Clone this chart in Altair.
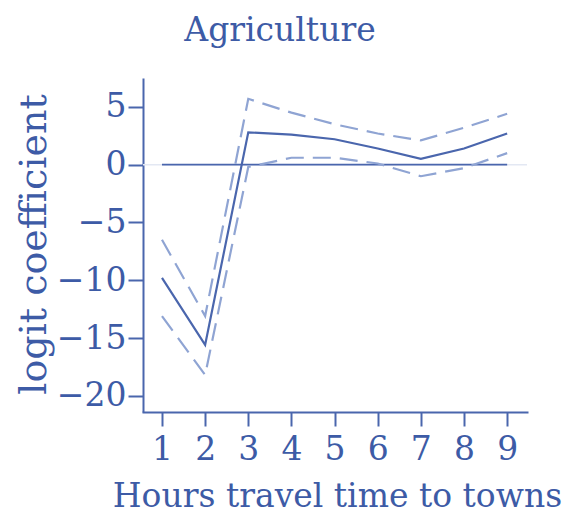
import altair as alt
import pandas as pd

hours = [1, 2, 3, 4, 5, 6, 7, 8, 9]
estimate = [-9.8, -15.6, 2.8, 2.6, 2.2, 1.4, 0.5, 1.4, 2.7]
upper = [-6.5, -13.1, 5.7, 4.5, 3.5, 2.7, 2.1, 3.2, 4.4]
lower = [-13.1, -18.2, -0.2, 0.6, 0.6, 0.1, -1.0, -0.3, 1.0]

df = pd.DataFrame({"hours": hours, "estimate": estimate, "upper": upper, "lower": lower})
zero = pd.DataFrame({"x1": [1], "x2": [9], "y": [0]})

TXT = "#3d5ba6"
LINE = "#4a66ad"
FONT = "DejaVu Serif"

xs = alt.Scale(domain=[0.56, 9.46], nice=False, zero=False)
ys = alt.Scale(domain=[-21.4, 7.5], nice=False, zero=False)

xaxis = alt.Axis(values=hours, format="d", title="Hours travel time to towns",
                 titleX=194, titleY=94, titleBaseline="alphabetic",
                 labelPadding=7, tickSize=14)
yaxis = alt.Axis(values=[-20, -15, -10, -5, 0, 5], format="d", title="logit coefficient",
                 titleX=-98, titleY=166, titleBaseline="alphabetic", titleFontSize=38,
                 labelPadding=2, tickSize=15)

base = alt.Chart(df)

faint = alt.Chart(zero).mark_rule(color="#e3e8f3", strokeWidth=1.5).encode(
    y=alt.Y("y:Q", scale=ys, axis=yaxis))
zline = alt.Chart(zero).mark_rule(color=LINE, strokeWidth=1.8).encode(
    x=alt.X("x1:Q", scale=xs, axis=xaxis), x2="x2:Q", y=alt.Y("y:Q", scale=ys))

est = base.mark_line(color=LINE, strokeWidth=2.2).encode(
    x=alt.X("hours:Q", scale=xs), y=alt.Y("estimate:Q", scale=ys))
up = base.mark_line(color="#8fa4d3", strokeWidth=2.2, strokeDash=[18, 9]).encode(
    x=alt.X("hours:Q", scale=xs), y=alt.Y("upper:Q", scale=ys))
lo = base.mark_line(color="#8fa4d3", strokeWidth=2.2, strokeDash=[18, 9]).encode(
    x=alt.X("hours:Q", scale=xs), y=alt.Y("lower:Q", scale=ys))

chart = alt.layer(faint, zline, est, up, lo).properties(
    width=384, height=334,
    padding={"left": 135, "top": 70, "right": 40, "bottom": 104},
    autosize=alt.AutoSizeParams(type="none"),
    title=alt.TitleParams("Agriculture", font=FONT, fontSize=33, fontWeight="normal",
                          color=TXT, anchor="middle", dx=-55, offset=30),
).configure_view(stroke=None).configure_axis(
    grid=False, domainColor=LINE, tickColor=LINE, domainWidth=2, tickWidth=2,
    labelFont=FONT, labelFontSize=33, labelColor=TXT,
    titleFont=FONT, titleFontSize=33, titleColor=TXT, titleFontWeight="normal",
).configure_axisX(domainCap="square").configure_axisY(labelBaseline="middle")

chart.save("out.html", embed_options={"renderer": "svg", "actions": False})
